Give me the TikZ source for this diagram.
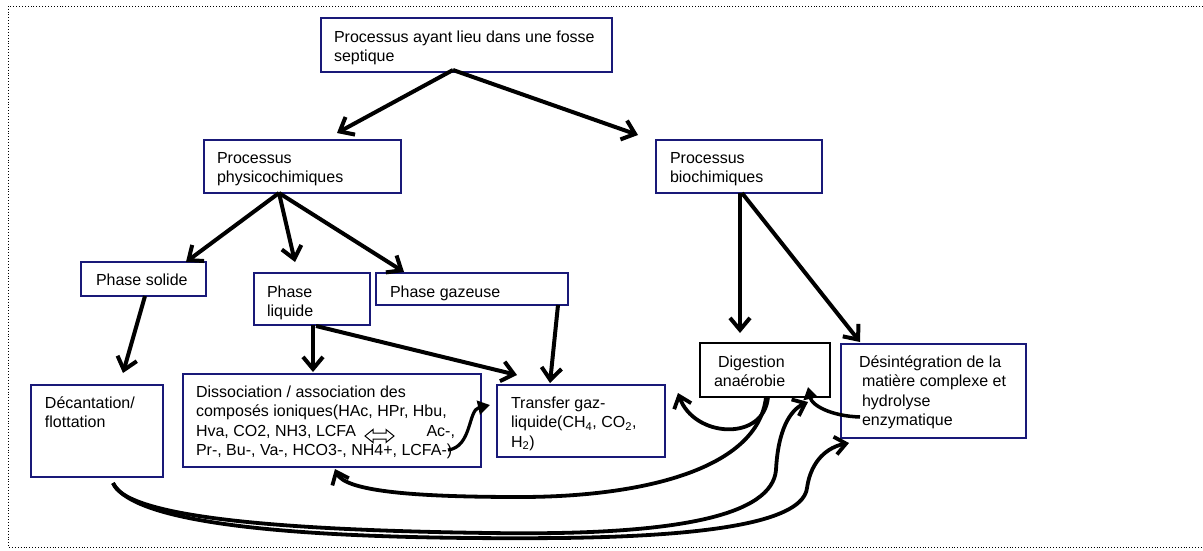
\documentclass[tikz,border=0pt]{standalone}
\usepackage{fontspec}
\setmainfont{Liberation Sans}
\usetikzlibrary{arrows.meta,calc}
\definecolor{navy}{RGB}{25,25,120}
\begin{document}
\begin{tikzpicture}[x=1pt,y=-1pt,
  bx/.style={draw=navy, line width=1.8pt, anchor=north west, inner sep=0pt, outer sep=0pt},
  bxk/.style={bx, draw=black},
  tx/.style={anchor=base west, inner sep=0pt, outer sep=0pt, font=\fontsize{16}{19.5}\selectfont},
  arr/.style={line width=4pt, -{Straight Barb[length=12pt,width=20pt]}},
  carr/.style={line width=3.8pt, -{Straight Barb[length=11pt,width=18pt]}},
  farr/.style={line width=3.5pt, -{Triangle[length=12pt,width=14pt]}}]
\useasboundingbox (0,0) rectangle (1203,550);
\draw[dotted, line width=0.9pt] (1203,6) -- (8,6) -- (8,547) -- (1203,547);

% boxes
\node[bx, minimum width=291pt, minimum height=54pt] (top) at (321,18) {};
\node[bx, minimum width=197pt, minimum height=53pt] (phys) at (204,140) {};
\node[bx, minimum width=166pt, minimum height=53pt] (bio) at (656,140) {};
\node[bx, minimum width=125pt, minimum height=34pt] (solide) at (81,262) {};
\node[bx, minimum width=116pt, minimum height=52pt] (liquide) at (254,273) {};
\node[bx, minimum width=192pt, minimum height=32pt] (gazeuse) at (376,273) {};
\node[bx, minimum width=132pt, minimum height=92pt] (decant) at (31,385) {};
\node[bx, minimum width=298pt, minimum height=93pt] (dissoc) at (183,374) {};
\node[bx, minimum width=168pt, minimum height=72pt] (transfer) at (497,385) {};
\node[bxk, minimum width=130pt, minimum height=54pt] (digest) at (700,343) {};
\node[bx, minimum width=185pt, minimum height=94pt] (desint) at (841,344) {};

% texts
\node[tx] (ttop) at (334,42) {\parbox[t]{280pt}{Processus ayant lieu dans une fosse\\septique}};
\node[tx] (tphys) at (217,163) {\parbox[t]{180pt}{Processus\\physicochimiques}};
\node[tx] (tbio) at (670,163) {\parbox[t]{150pt}{Processus\\biochimiques}};
\node[tx] (tsolide) at (96,285) {Phase solide};
\node[tx] (tliquide) at (267,297) {\parbox[t]{100pt}{Phase\\liquide}};
\node[tx] (tgazeuse) at (390,297) {Phase gazeuse};
\node[tx] (tdecant) at (45,408) {\parbox[t]{120pt}{Décantation/\\flottation}};
\node[tx] (tdissoc) at (196,397) {\parbox[t]{290pt}{Dissociation / association des\\composés ioniques(HAc, HPr, Hbu,\\\makebox[259pt][l]{Hva, CO2, NH3, LCFA\hfill Ac-,}\\Pr-, Bu-, Va-, HCO3-, NH4+, LCFA-)}};
\node[tx] (ttransfer) at (511,408) {\parbox[t]{150pt}{Transfer gaz-\\liquide(CH\textsubscript{4}, CO\textsubscript{2},\\H\textsubscript{2})}};
\node[tx] (tdigest) at (714,367) {\parbox[t]{115pt}{\hspace*{4pt}Digestion\\anaérobie}};
\node[tx] (tdesint) at (859,367) {\parbox[t]{170pt}{Désintégration de la\\\hspace*{3pt}matière complexe et\\\hspace*{3pt}hydrolyse\\\hspace*{3pt}enzymatique}};

% hollow double arrow
\draw[line width=1pt] (365,436) -- (373,429.5) -- (373,433) -- (386,433) -- (386,429.5) -- (394,436) -- (386,442.5) -- (386,439) -- (373,439) -- (373,442.5) -- cycle;

% straight arrows
\draw[arr] ($(top.south west)+(132,-2)$) -- ($(phys.north west)+(133,-7)$);
\draw[arr] ($(top.south west)+(132,-2)$) -- ($(bio.north west)+(-18,-5)$);
\draw[arr] ($(phys.south west)+(75,0)$) -- ($(solide.north west)+(105,0)$);
\draw[arr] ($(phys.south west)+(75,0)$) -- ($(liquide.north west)+(41,-11)$);
\draw[arr] ($(phys.south west)+(75,0)$) -- ($(gazeuse.north west)+(28,-1)$);
\draw[arr] ($(solide.south west)+(64,0)$) -- ($(decant.north west)+(92,-12)$);
\draw[arr] ($(liquide.south west)+(59,0)$) -- ($(dissoc.north west)+(130,-2)$);
\draw[arr] ($(liquide.south west)+(62,1)$) -- ($(transfer.north west)+(20,-10)$);
\draw[arr] ($(gazeuse.south west)+(182,0)$) -- ($(transfer.north west)+(53,-2)$);
\draw[arr] ($(bio.south west)+(84,0)$) -- ($(digest.north west)+(40,-10)$);
\draw[arr] ($(bio.south west)+(86,0)$) -- ($(desint.north west)+(19,-2)$);

% curved arrows
\draw[carr] ($(digest.south west)+(68,0)$) .. controls (764,442) and (694,438) .. ($(transfer.north east)+(13,8)$);
\draw[farr] ($(desint.south west)+(19,-21)$) .. controls (830,416) and (812,405) .. ($(digest.south east)+(-22,-10)$);
\draw[carr] ($(digest.south west)+(66,0)$) .. controls (758,470) and (640,497) .. (520,497) .. controls (420,497) and (345,492) .. ($(dissoc.south west)+(152,2)$);
\draw[carr] ($(decant.south west)+(82,6)$) .. controls (125,515) and (260,530) .. (490,533) .. controls (680,536) and (772,515) .. (776,470) .. controls (778,430) and (790,410) .. ($(digest.south east)+(-22,5)$);
\draw[carr] ($(decant.south west)+(82,6)$) .. controls (135,527) and (320,540) .. (560,538) .. controls (720,536) and (803,520) .. (807,488) .. controls (811,460) and (828,447) .. ($(desint.south west)+(8,5)$);
\draw[farr, line width=3.2pt] ($(dissoc.south east)+(-33,-17)$) .. controls (472,447) and (468,410) .. ($(transfer.north west)+(-7,20)$);
\end{tikzpicture}
\end{document}
